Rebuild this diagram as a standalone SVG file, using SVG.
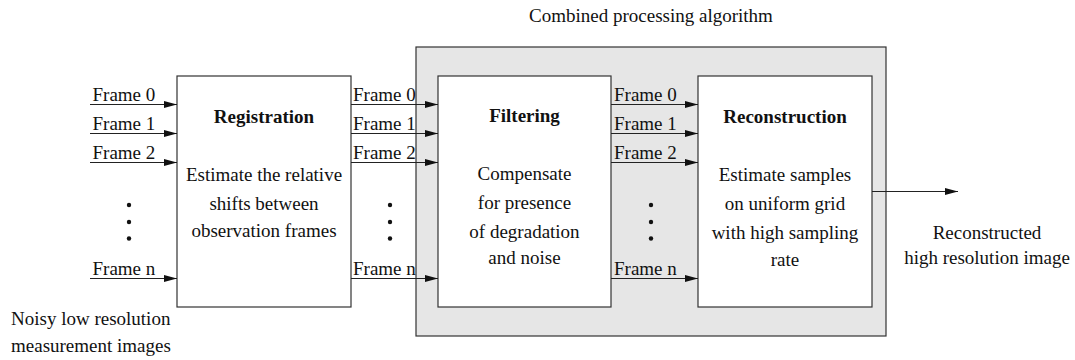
<svg xmlns="http://www.w3.org/2000/svg" width="1075" height="360" viewBox="0 0 1075 360" font-family="'Liberation Serif', 'DejaVu Serif', serif" font-size="19">
<defs>
<style>
text{font-family:'Liberation Serif','DejaVu Serif',serif;font-size:19px;fill:#111}
.b{font-weight:bold}
.m{text-anchor:middle}
.box{fill:#fff;stroke:#333;stroke-width:1.2}
.grp{fill:#e6e6e6;stroke:#333;stroke-width:1.2}
.ln{stroke:#222;stroke-width:1.2;fill:none}
.dot{fill:#111}
</style>
<marker id="ah" viewBox="0 0 13 7" refX="13" refY="3.5" markerWidth="13" markerHeight="7" markerUnits="userSpaceOnUse" orient="auto">
<path d="M0,0 L13,3.5 L0,7 Z" fill="#111"/>
</marker>
</defs>
<rect fill="#fff" x="0" y="0" width="1075" height="360"/>
<g id="combined">
<rect class="grp" x="416" y="47" width="470" height="289"/>
<text class="m" x="651" y="22">Combined processing algorithm</text>
</g>
<g id="registration">
<rect class="box" x="177" y="76" width="174" height="231"/>
<text class="b m" x="264" y="122.5">Registration</text>
<text class="m" x="264" y="180.5">Estimate the relative</text>
<text class="m" x="264" y="209.5">shifts between</text>
<text class="m" x="264" y="237">observation frames</text>
</g>
<g id="filtering">
<rect class="box" x="438" y="76" width="173" height="231"/>
<text class="b m" x="524.5" y="122">Filtering</text>
<text class="m" x="524.5" y="180">Compensate</text>
<text class="m" x="524.5" y="209">for presence</text>
<text class="m" x="524.5" y="237.5">of degradation</text>
<text class="m" x="524.5" y="264">and noise</text>
</g>
<g id="reconstruction">
<rect class="box" x="698" y="76" width="174" height="231"/>
<text class="b m" x="785" y="122.5">Reconstruction</text>
<text class="m" x="785" y="180.5">Estimate samples</text>
<text class="m" x="785" y="209.5">on uniform grid</text>
<text class="m" x="785" y="238.5">with high sampling</text>
<text class="m" x="785" y="266">rate</text>
</g>
<g id="input-label">
<text x="11" y="325">Noisy low resolution</text>
<text x="11" y="352">measurement images</text>
</g>
<g id="output-label">
<text class="m" x="987" y="238.5">Reconstructed</text>
<text class="m" x="987" y="264">high resolution image</text>
</g>
<g id="connectors">
<line class="ln" x1="90" y1="104.5" x2="177" y2="104.5" marker-end="url(#ah)"/>
<line class="ln" x1="90" y1="133.5" x2="177" y2="133.5" marker-end="url(#ah)"/>
<line class="ln" x1="90" y1="162.5" x2="177" y2="162.5" marker-end="url(#ah)"/>
<line class="ln" x1="90" y1="278.5" x2="177" y2="278.5" marker-end="url(#ah)"/>
<line class="ln" x1="351" y1="104.5" x2="438" y2="104.5" marker-end="url(#ah)"/>
<line class="ln" x1="351" y1="133.5" x2="438" y2="133.5" marker-end="url(#ah)"/>
<line class="ln" x1="351" y1="162.5" x2="438" y2="162.5" marker-end="url(#ah)"/>
<line class="ln" x1="351" y1="278.5" x2="438" y2="278.5" marker-end="url(#ah)"/>
<line class="ln" x1="611" y1="104.5" x2="698" y2="104.5" marker-end="url(#ah)"/>
<line class="ln" x1="611" y1="133.5" x2="698" y2="133.5" marker-end="url(#ah)"/>
<line class="ln" x1="611" y1="162.5" x2="698" y2="162.5" marker-end="url(#ah)"/>
<line class="ln" x1="611" y1="278.5" x2="698" y2="278.5" marker-end="url(#ah)"/>
<line class="ln" x1="872" y1="191.5" x2="958" y2="191.5" marker-end="url(#ah)"/>
<text x="92.5" y="100.5">Frame 0</text>
<text x="92.5" y="129.5">Frame 1</text>
<text x="92.5" y="158.5">Frame 2</text>
<text x="92.5" y="274.5">Frame n</text>
<text x="353" y="100.5">Frame 0</text>
<text x="353" y="129.5">Frame 1</text>
<text x="353" y="158.5">Frame 2</text>
<text x="353" y="274.5">Frame n</text>
<text x="614" y="100.5">Frame 0</text>
<text x="614" y="129.5">Frame 1</text>
<text x="614" y="158.5">Frame 2</text>
<text x="614" y="274.5">Frame n</text>
<circle class="dot" cx="129" cy="205" r="2.2"/>
<circle class="dot" cx="129" cy="222" r="2.2"/>
<circle class="dot" cx="129" cy="238.5" r="2.2"/>
<circle class="dot" cx="390" cy="205" r="2.2"/>
<circle class="dot" cx="390" cy="222" r="2.2"/>
<circle class="dot" cx="390" cy="238.5" r="2.2"/>
<circle class="dot" cx="651" cy="205" r="2.2"/>
<circle class="dot" cx="651" cy="222" r="2.2"/>
<circle class="dot" cx="651" cy="238.5" r="2.2"/>
</g>
</svg>
